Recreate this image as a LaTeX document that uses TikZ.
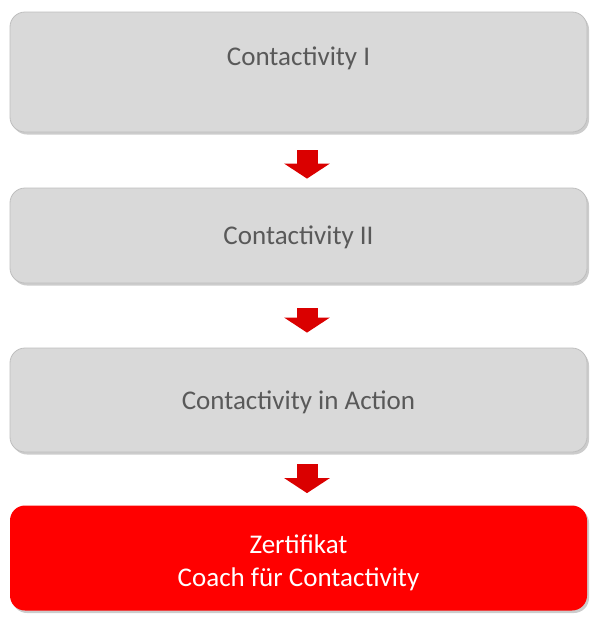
\documentclass[tikz,border=0pt]{standalone}
\usepackage{fontspec}
\setmainfont{Carlito}
\usetikzlibrary{shapes,arrows.meta,shadows,positioning}
\definecolor{boxgray}{RGB}{217,217,217}
\definecolor{boxline}{RGB}{190,190,190}
\definecolor{txtgray}{RGB}{89,89,89}
\definecolor{certred}{RGB}{255,0,0}
\definecolor{arrred}{RGB}{218,0,0}

\begin{document}
\begin{tikzpicture}[x=1pt,y=-1pt,
  box/.style={rectangle,rounded corners=15pt,draw=boxline,line width=0.8pt,fill=boxgray,
    minimum width=577pt,inner sep=0pt,text=txtgray,text depth=0pt,font=\fontsize{27}{33}\selectfont,
    drop shadow={shadow xshift=2pt,shadow yshift=-2.5pt,fill=black!40}},
  certbox/.style={box,draw=none,fill=certred},
  lbl/.style={text=txtgray,font=\fontsize{27}{33}\selectfont},
  certlbl/.style={text=white,align=center,font=\fontsize{27}{33}\selectfont},
  flow/.style={arrred,line width=21pt,-{Triangle[length=15pt,width=45pt]}}]
\useasboundingbox (0,0) rectangle (600,627);

\node[box,minimum height=120pt] at (298.5,72)	(c1) {};
\node[lbl] at (298.5,58)	(c1t) {Contactivity I};
\node[box,minimum height=95pt] at (298.5,235.5)	(c2) {Contactivity II};
\node[box,minimum height=104pt] at (298.5,400)	(c3) {Contactivity in Action};
\node[certbox,minimum height=105pt] at (298.5,558)	(z) {};
\node[certlbl] at (298.5,563)	(zt) {Zertifikat\\Coach für Contactivity};

\draw[flow] ([xshift=8.5pt,yshift=-18pt]c1.south) -- ([xshift=8.5pt,yshift=9pt]c2.north);
\draw[flow] ([xshift=8.5pt,yshift=-25pt]c2.south) -- ([xshift=8.5pt,yshift=15pt]c3.north);
\draw[flow] ([xshift=8.5pt,yshift=-12pt]c3.south) -- ([xshift=8.5pt,yshift=12pt]z.north);
\end{tikzpicture}
\end{document}
